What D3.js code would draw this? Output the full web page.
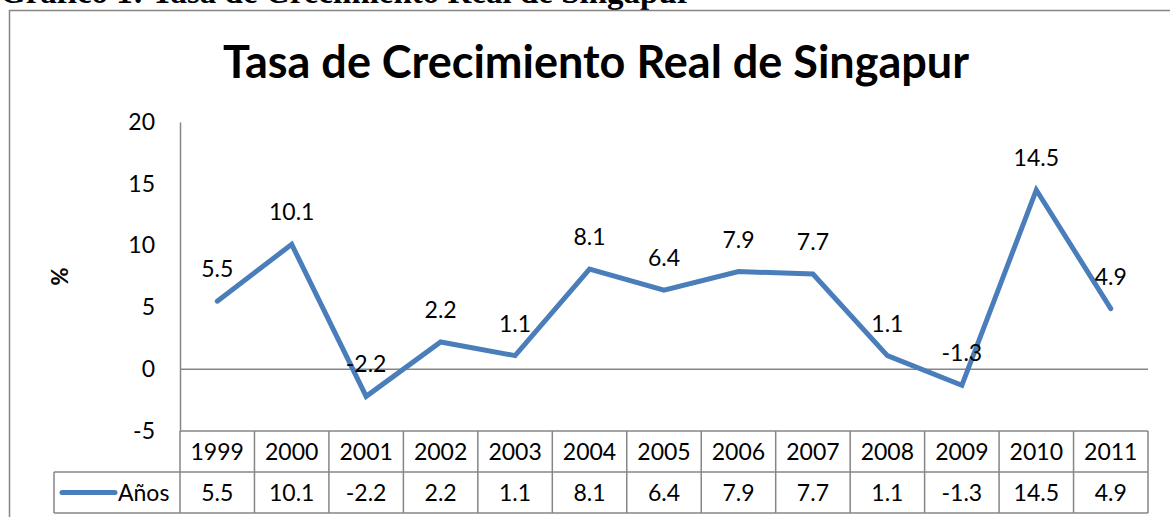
<!DOCTYPE html>
<html>
<head>
<meta charset="utf-8">
<script src="https://cdn.jsdelivr.net/npm/d3@7"></script>
<style>
  body { margin: 0; background: #fff; }
  svg { display: block; }
  text { font-family: Lato, "Open Sans", sans-serif; fill: #000; }
</style>
</head>
<body>
<div id="chart"></div>
<script>
// data
var years = ["1999","2000","2001","2002","2003","2004","2005","2006","2007","2008","2009","2010","2011"];
var values = [5.5, 10.1, -2.2, 2.2, 1.1, 8.1, 6.4, 7.9, 7.7, 1.1, -1.3, 14.5, 4.9];
var yTicks = [-5, 0, 5, 10, 15, 20];
var seriesName = "Años";
var chartTitle = "Tasa de Crecimiento Real de Singapur";
var caption = "Gráfico 1: Tasa de Crecimiento Real de Singapur";

var width = 1170, height = 517;
var gridColor = "#868686", lineColor = "#4a7ebb";
var fs = "23px";

var svg = d3.select("#chart").append("svg")
    .attr("width", width)
    .attr("height", height);

// caption above the frame (cut at the top)
svg.append("text")
    .attr("x", 0)
    .attr("y", 3)
    .style("font-family", "'Liberation Serif', 'DejaVu Serif', serif")
    .style("font-weight", "bold")
    .style("font-size", "33px")
    .text(caption);

// chart frame, runs off right and bottom
svg.append("rect")
    .attr("x", 9.5).attr("y", 10.5)
    .attr("width", 1300).attr("height", 700)
    .attr("fill", "none")
    .attr("stroke", gridColor)
    .attr("stroke-width", 1.5);

svg.append("text")
    .attr("x", 596)
    .attr("y", 78)
    .attr("text-anchor", "middle")
    .style("font-weight", "bold")
    .style("font-size", "45px")
    .text(chartTitle);

var x = d3.scaleBand()
    .domain(years)
    .range([180, 1148]);

var y = d3.scaleLinear()
    .domain([-5, 20])
    .range([431, 122]);

// y axis
var yAxis = svg.append("g")
    .attr("transform", "translate(180,0)")
    .call(d3.axisLeft(y).tickValues(yTicks).tickFormat(d => String(d)).tickSize(0).tickPadding(25));
yAxis.select(".domain").attr("stroke", gridColor).attr("stroke-width", 1.5);
yAxis.selectAll("text")
    .style("font-family", "Lato, 'Open Sans', sans-serif")
    .style("font-size", fs)
    .attr("fill", "#000");

// zero line
svg.append("line")
    .attr("x1", x.range()[0]).attr("x2", x.range()[1])
    .attr("y1", y(0)).attr("y2", y(0))
    .attr("stroke", gridColor)
    .attr("stroke-width", 1.5);

svg.append("text")
    .attr("transform", "translate(68," + y(7.5) + ") rotate(-90)")
    .attr("text-anchor", "middle")
    .style("font-weight", "bold")
    .style("font-size", "22px")
    .text("%");

// data table below the plot
var rowH = 41;
var top0 = y(-5);
var tbl = svg.append("g").attr("stroke", gridColor).attr("stroke-width", 1.5);
tbl.append("line")
    .attr("x1", 180).attr("x2", x.range()[1])
    .attr("y1", top0).attr("y2", top0);
tbl.append("line")
    .attr("x1", 54).attr("x2", x.range()[1])
    .attr("y1", top0 + rowH).attr("y2", top0 + rowH);
tbl.append("line")
    .attr("x1", 54).attr("x2", x.range()[1])
    .attr("y1", top0 + 2 * rowH).attr("y2", top0 + 2 * rowH);
tbl.append("line")
    .attr("x1", 54).attr("x2", 54)
    .attr("y1", top0 + rowH).attr("y2", top0 + 2 * rowH);
tbl.append("line")
    .attr("x1", 180).attr("x2", 180)
    .attr("y1", top0).attr("y2", top0 + 2 * rowH);
tbl.selectAll(".col")
    .data(years)
    .enter().append("line")
    .attr("x1", d => x(d) + x.bandwidth()).attr("x2", d => x(d) + x.bandwidth())
    .attr("y1", top0).attr("y2", top0 + 2 * rowH);

svg.selectAll(".yr")
    .data(years)
    .enter().append("text")
    .attr("x", d => x(d) + x.bandwidth() / 2)
    .attr("y", top0 + rowH / 2 + 8)
    .attr("text-anchor", "middle")
    .style("font-size", fs)
    .text(d => d);

svg.selectAll(".val")
    .data(values)
    .enter().append("text")
    .attr("x", (d, i) => x(years[i]) + x.bandwidth() / 2)
    .attr("y", top0 + rowH * 1.5 + 8)
    .attr("text-anchor", "middle")
    .style("font-size", fs)
    .text(d => d);

// legend key in table
svg.append("line")
    .attr("x1", 62).attr("x2", 115)
    .attr("y1", top0 + rowH * 1.5).attr("y2", top0 + rowH * 1.5)
    .attr("stroke", lineColor)
    .attr("stroke-width", 5)
    .attr("stroke-linecap", "round");
svg.append("text")
    .attr("x", 118)
    .attr("y", top0 + rowH * 1.5 + 8)
    .style("font-size", fs)
    .text(seriesName);

// the line
var line = d3.line()
    .x((d, i) => x(years[i]) + x.bandwidth() / 2)
    .y(d => y(d));

svg.append("path")
    .datum(values)
    .attr("fill", "none")
    .attr("stroke", lineColor)
    .attr("stroke-width", 5)
    .attr("stroke-linejoin", "miter")
    .attr("stroke-linecap", "round")
    .attr("d", line);

// data labels
svg.selectAll(".lbl")
    .data(values)
    .enter().append("text")
    .attr("x", (d, i) => x(years[i]) + x.bandwidth() / 2)
    .attr("y", d => y(d) - 24)
    .attr("text-anchor", "middle")
    .style("font-size", fs)
    .text(d => d);
</script>
</body>
</html>
